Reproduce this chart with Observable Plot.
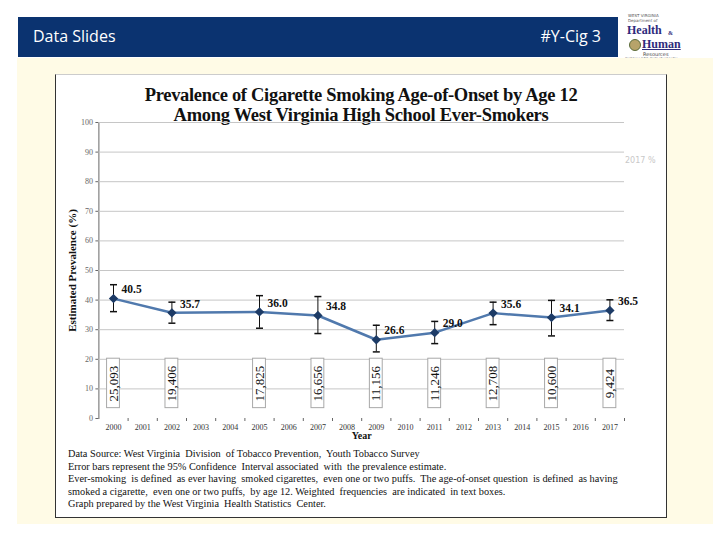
<!DOCTYPE html>
<html>
<head>
<meta charset="utf-8">
<script src="https://cdn.jsdelivr.net/npm/d3@7"></script>
<script src="https://cdn.jsdelivr.net/npm/@observablehq/plot@0.6"></script>
<style>
  body { margin: 0; width: 720px; height: 540px; position: relative; background: #fff; overflow: hidden; font-family: "Liberation Serif", serif; }
  #bar { position: absolute; left: 18px; top: 17px; width: 600px; height: 40px; background: #0b3370; }
  #bar .l { position: absolute; left: 15px; top: 8px; color: #fff; font: 16px "Open Sans", sans-serif; }
  #bar .r { position: absolute; right: 17px; top: 8px; color: #fff; font: 16px "Open Sans", sans-serif; }
  #logo { position: absolute; left: 624px; top: 13px; width: 92px; height: 50px; color: #2d2b7c; }
  #logo div { position: absolute; white-space: nowrap; }
  #panel { position: absolute; left: 17px; top: 58px; width: 696px; height: 466px; background: #fffbe6; }
  #box { position: absolute; left: 55px; top: 74px; width: 610px; height: 442px; background: #fff; border: 1px solid #333; border-top-color: #ccc; }
  #title { position: absolute; left: 55px; top: 85px; width: 612px; text-align: center; font-weight: bold; font-size: 18.5px; line-height: 20px; color: #111; letter-spacing: -0.3px; }
  #chart { position: absolute; left: 56px; top: 74px; }
  #notes { position: absolute; left: 68px; top: 448px; font-size: 10.3px; line-height: 12.6px; color: #111; white-space: pre; }
  #stray { position: absolute; left: 625px; top: 156px; font: 8px "DejaVu Sans", sans-serif; color: #c8c8c8; }
</style>
</head>
<body>
<div id="bar"><span class="l">Data Slides</span><span class="r">#Y-Cig 3</span></div>
<div id="logo">
  <div style="left:4px;top:0px;font:4px/5px 'DejaVu Sans',sans-serif;color:#555;">WEST VIRGINIA</div>
  <div style="left:4px;top:5px;font:4px/5px 'DejaVu Sans',sans-serif;color:#555;">Department of</div>
  <div style="left:3px;top:10px;font:bold 12px/14px 'Liberation Serif',serif;">Health</div>
  <div style="left:44px;top:17px;font:bold 6px/7px 'Liberation Serif',serif;">&amp;</div>
  <div style="left:5px;top:26px;width:10px;height:10px;border-radius:50%;background:#b7a36a;border:1px solid #5a6b3a;"></div>
  <div style="left:18px;top:24px;font:bold 12px/14px 'Liberation Serif',serif;text-decoration:underline;">Human</div>
  <div style="left:19px;top:38px;font:5px/6px 'DejaVu Sans',sans-serif;color:#444;">Resources</div>
  <div style="left:1px;top:44px;font:3.6px/5px 'DejaVu Sans',sans-serif;color:#444;">BUREAU FOR PUBLIC HEALTH</div>
</div>
<div id="panel"></div>
<div id="box"></div>
<div id="title">Prevalence of Cigarette Smoking Age-of-Onset by Age 12<br>Among West Virginia High School Ever-Smokers</div>
<div id="stray">2017 %</div>
<div id="chart"></div>
<div id="notes">Data Source: West Virginia  Division  of Tobacco Prevention,  Youth Tobacco Survey
Error bars represent the 95% Confidence  Interval associated  with  the prevalence estimate.
Ever-smoking  is defined  as ever having  smoked cigarettes,  even one or two puffs.  The age-of-onset question  is defined  as having
smoked a cigarette,  even one or two puffs,  by age 12. Weighted  frequencies  are indicated  in text boxes.
Graph prepared by the West Virginia  Health Statistics  Center.</div>
<script>
// ---- data ----
const years      = [2000, 2002, 2005, 2007, 2009, 2011, 2013, 2015, 2017];
const prevalence = [40.5, 35.7, 36.0, 34.8, 26.6, 29.0, 35.6, 34.1, 36.5];
const ciLow      = [36.1, 32.2, 30.5, 28.7, 22.5, 25.3, 31.7, 27.9, 33.1];
const ciHigh     = [45.2, 39.3, 41.5, 41.2, 31.5, 32.8, 39.3, 39.9, 40.1];
const weightedN  = ["25,093", "19,406", "17,825", "16,656", "11,156", "11,246", "12,708", "10,600", "9,424"];
const axisYears  = [2000, 2001, 2002, 2003, 2004, 2005, 2006, 2007, 2008, 2009, 2010, 2011, 2012, 2013, 2014, 2015, 2016, 2017];
const yTicks     = [0, 10, 20, 30, 40, 50, 60, 70, 80, 90, 100];

const rows = years.map((y, i) => ({year: y, value: prevalence[i], lo: ciLow[i], hi: ciHigh[i], n: weightedN[i]}));
const boundaries = axisYears.map(y => y + 0.5);
const cap = {draw(ctx) { ctx.moveTo(-3.5, 0); ctx.lineTo(3.5, 0); }};

const chart = Plot.plot({
  width: 610, height: 378,
  marginLeft: 42.4, marginRight: 42, marginTop: 48, marginBottom: 34,
  style: {fontFamily: "'Liberation Serif', serif", fontSize: "8px", background: "transparent", color: "#666", overflow: "visible"},
  x: {domain: [1999.5, 2017.5], ticks: boundaries, tickFormat: () => "", tickSize: 3, label: null},
  y: {domain: [0, 100], ticks: yTicks, tickSize: 3, tickPadding: 3, label: null, line: true},
  marks: [
    Plot.ruleY(yTicks.filter(t => t > 0), {stroke: "#c6c6c6"}),
    Plot.rect(rows, {x1: d => d.year - 0.22, x2: d => d.year + 0.22, y1: 3.5, y2: 20.2, fill: "white", stroke: "#a8a8a8"}),
    Plot.text(rows, {x: "year", y: 11.8, text: "n", rotate: -90, fontSize: 13, fill: "#111"}),
    Plot.ruleX(rows, {x: "year", y1: "lo", y2: "hi", stroke: "#111"}),
    Plot.dot(rows, {x: "year", y: "lo", symbol: cap, stroke: "#111", fill: "none"}),
    Plot.dot(rows, {x: "year", y: "hi", symbol: cap, stroke: "#111", fill: "none"}),
    Plot.line(rows, {x: "year", y: "value", stroke: "#5079ad", strokeWidth: 2.5}),
    Plot.dot(rows, {x: "year", y: "value", symbol: "diamond2", r: 4.2, fill: "#1d3b66"}),
    Plot.text(rows, {x: "year", y: "value", text: d => d.value.toFixed(1), dx: 8, dy: -9, textAnchor: "start", fontWeight: "bold", fontSize: 11.5, fill: "#111"}),
    Plot.text(axisYears, {x: d => d, text: d => String(d), frameAnchor: "bottom", dy: 11, fontSize: 8, fill: "#333"}),
    Plot.text(["Year"], {frameAnchor: "bottom", dy: 20, fontWeight: "bold", fontSize: 10, fill: "#111"}),
    Plot.text(["Estimated Prevalence (%)"], {frameAnchor: "left", textAnchor: "middle", rotate: -90, dx: -26, fontWeight: "bold", fontSize: 11, fill: "#111"})
  ]
});
document.getElementById("chart").appendChild(chart);
</script>
</body>
</html>
